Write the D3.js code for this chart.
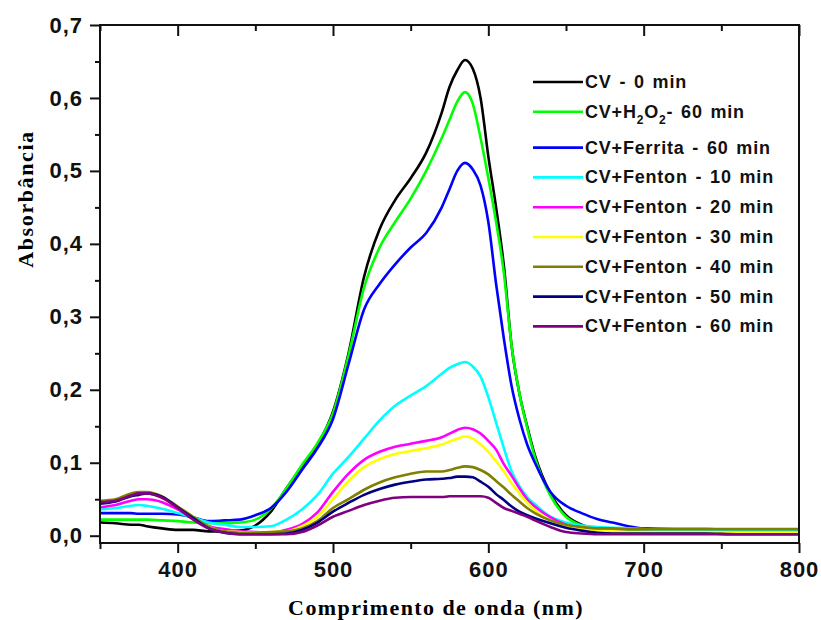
<!DOCTYPE html>
<html>
<head>
<meta charset="utf-8">
<script src="https://cdn.jsdelivr.net/npm/d3@7"></script>
<style>
    body { margin: 0; background: #fff; }
    svg { display: block; }
</style>
</head>
<body>
<svg id="chart"></svg>
<script>
// wavelengths (nm)
var wavelength = [350, 360, 370, 375, 380, 390, 400, 410, 420, 430, 440, 450,
    460, 470, 480, 490, 500, 510, 520, 530, 540, 550, 560, 570,
    575, 580, 585, 590, 595, 600, 605, 610, 615, 620, 625, 630,
    640, 650, 660, 670, 680, 690, 700, 720, 740, 760, 780, 800]

var cv0 = [.018, .017, .015, .015, .013, .010, .008, .008, .006, .006, .007, .014,
    .033, .065, .095, .125, .170, .250, .355, .420, .460, .490, .525, .580,
    .615, .638, .652, .640, .600, .520, .450, .370, .260, .195, .150, .110,
    .058, .028, .015, .010, .008, .007, .007, .006, .006, .005, .005, .005]
var cvH2O2 = [.022, .022, .022, .022, .022, .021, .020, .018, .017, .017, .018, .022,
    .037, .065, .097, .127, .168, .247, .340, .395, .430, .462, .500, .545,
    .570, .595, .608, .592, .545, .490, .430, .360, .260, .195, .148, .107,
    .055, .026, .014, .010, .008, .007, .007, .006, .006, .005, .005, .005]
var cvFerrita = [.031, .031, .031, .030, .030, .030, .029, .025, .020, .021, .022, .028,
    .038, .060, .090, .120, .160, .235, .310, .345, .372, .395, .415, .450,
    .475, .500, .511, .502, .480, .430, .345, .270, .205, .160, .125, .100,
    .060, .041, .031, .023, .018, .013, .010, .009, .009, .008, .008, .008]
var fenton10 = [.036, .038, .041, .042, .041, .037, .031, .025, .018, .015, .012, .012,
    .013, .022, .036, .056, .085, .108, .133, .158, .178, .192, .205, .222,
    .230, .235, .238, .232, .218, .190, .155, .120, .088, .068, .053, .043,
    .026, .018, .014, .012, .011, .010, .009, .008, .007, .007, .006, .006]
var fenton20 = [.039, .042, .048, .050, .050, .046, .036, .024, .013, .009, .006, .005,
    .004, .008, .016, .032, .060, .085, .104, .115, .122, .126, .130, .135,
    .140, .145, .148, .146, .140, .130, .118, .098, .082, .065, .050, .040,
    .025, .015, .010, .007, .006, .005, .005, .004, .004, .003, .003, .003]
var fenton30 = [.047, .049, .055, .058, .058, .052, .039, .025, .012, .006, .005, .004,
    .005, .006, .013, .026, .050, .075, .094, .105, .112, .116, .120, .125,
    .129, .133, .136, .133, .125, .115, .102, .088, .072, .058, .045, .035,
    .021, .013, .009, .007, .006, .005, .005, .005, .005, .004, .004, .004]
var fenton40 = [.048, .050, .058, .060, .060, .054, .040, .026, .012, .006, .004, .004,
    .005, .006, .010, .020, .038, .050, .063, .073, .080, .085, .088, .088,
    .090, .093, .095, .094, .090, .084, .075, .066, .056, .047, .038, .031,
    .021, .015, .012, .010, .010, .009, .009, .009, .009, .009, .009, .009]
var fenton50 = [.044, .047, .054, .056, .058, .053, .039, .024, .010, .004, .002, .002,
    .002, .003, .008, .018, .033, .045, .056, .064, .070, .074, .077, .078,
    .079, .081, .081, .080, .074, .067, .057, .049, .040, .033, .028, .024,
    .017, .011, .007, .004, .003, .003, .003, .003, .003, .002, .002, .002]
var fenton60 = [.046, .048, .055, .058, .058, .052, .038, .022, .010, .004, .002, .002,
    .002, .002, .005, .014, .026, .034, .042, .048, .052, .053, .053, .053,
    .054, .054, .054, .054, .054, .052, .045, .038, .034, .030, .026, .021,
    .012, .005, .003, .002, .002, .002, .002, .002, .002, .002, .002, .002]

var seriesNames = ["CV - 0 min", "CV+H2O2 - 60 min", "CV+Ferrita - 60 min",
    "CV+Fenton - 10 min", "CV+Fenton - 20 min", "CV+Fenton - 30 min",
    "CV+Fenton - 40 min", "CV+Fenton - 50 min", "CV+Fenton - 60 min"]
var seriesValues = [cv0, cvH2O2, cvFerrita, fenton10, fenton20, fenton30, fenton40, fenton50, fenton60]
var seriesColors = ["#000000", "#00ff00", "#0000ff", "#00ffff", "#ff00ff",
    "#ffff00", "#808000", "#000080", "#800080"]

var xMajor = [400, 500, 600, 700, 800]
var xMinor = [350, 450, 550, 650, 750]
var yMajor = [0, 0.1, 0.2, 0.3, 0.4, 0.5, 0.6, 0.7]
var yMinor = [0.05, 0.15, 0.25, 0.35, 0.45, 0.55, 0.65]

var width = 821, height = 620
var svg = d3.select("#chart")
    .attr("width", width)
    .attr("height", height)

var x = d3.scaleLinear().domain([350, 800]).range([100, 799])
var y = d3.scaleLinear().domain([-0.01, 0.7]).range([543, 25])

var comma = function(d) { return d3.format(".1f")(d).replace(".", ",") }
var tickFont = "'Liberation Sans', Arial, sans-serif"
var titleFont = "'Liberation Serif', 'Times New Roman', serif"

// curves
var line = d3.line()
    .x(d => x(d[0]))
    .y(d => y(d[1]))
    .curve(d3.curveMonotoneX)

svg.append("g")
    .selectAll("path")
    .data(seriesValues)
    .enter()
    .append("path")
        .attr("d", vals => line(wavelength.map((w, i) => [w, vals[i]])))
        .attr("fill", "none")
        .attr("stroke", (d, i) => seriesColors[i])
        .attr("stroke-width", 2.6)
        .attr("stroke-linejoin", "round")

// axes
function styleAxis(g) {
    g.select(".domain").remove()
    g.selectAll(".tick line").attr("stroke", "#111").attr("stroke-width", 2)
    g.selectAll(".tick text")
        .attr("fill", "#111")
        .style("font-family", tickFont)
        .style("font-weight", "bold")
        .style("font-size", "22px")
        .style("letter-spacing", "1px")
}

svg.append("g")
    .attr("transform", "translate(0,543)")
    .call(d3.axisBottom(x).tickValues(xMajor).tickSize(10).tickPadding(8).tickFormat(d3.format("d")))
    .call(styleAxis)
svg.append("g")
    .attr("transform", "translate(0,543)")
    .call(d3.axisBottom(x).tickValues(xMinor).tickSize(6).tickFormat(""))
    .call(styleAxis)
svg.append("g")
    .attr("transform", "translate(0,25)")
    .call(d3.axisTop(x).tickValues(xMajor).tickSize(-11).tickFormat(""))
    .call(styleAxis)
svg.append("g")
    .attr("transform", "translate(0,25)")
    .call(d3.axisTop(x).tickValues(xMinor).tickSize(-6).tickFormat(""))
    .call(styleAxis)
svg.append("g")
    .attr("transform", "translate(100,0)")
    .call(d3.axisLeft(y).tickValues(yMajor).tickSize(10).tickPadding(7).tickFormat(comma))
    .call(styleAxis)
svg.append("g")
    .attr("transform", "translate(100,0)")
    .call(d3.axisLeft(y).tickValues(yMinor).tickSize(5).tickFormat(""))
    .call(styleAxis)

// frame
svg.append("rect")
    .attr("x", x.range()[0])
    .attr("y", y.range()[1])
    .attr("width", x.range()[1] - x.range()[0])
    .attr("height", y.range()[0] - y.range()[1])
    .attr("fill", "none")
    .attr("stroke", "#111")
    .attr("stroke-width", 2)

// axis titles
svg.append("text")
    .attr("x", 436)
    .attr("y", 615)
    .attr("text-anchor", "middle")
    .style("font-family", titleFont)
    .style("font-weight", "bold")
    .style("font-size", "22px")
    .style("letter-spacing", "1.4px")
    .text("Comprimento de onda (nm)")

svg.append("text")
    .attr("transform", "translate(33,199) rotate(-90)")
    .attr("text-anchor", "middle")
    .style("font-family", titleFont)
    .style("font-weight", "bold")
    .style("font-size", "22px")
    .style("letter-spacing", "1.6px")
    .text("Absorbância")

// legend
var legend = svg.append("g")
var rowY = function(i) { return 82 + i * 29.8 + (i >= 2 ? 6 : 0) }

seriesNames.forEach(function(name, i) {
    var row = legend.append("g").attr("transform", "translate(0," + rowY(i) + ")")
    row.append("line")
        .attr("x1", 533).attr("x2", 583)
        .attr("y1", 0).attr("y2", 0)
        .attr("stroke", seriesColors[i])
        .attr("stroke-width", 2.6)
    var t = row.append("text")
        .attr("x", 585)
        .attr("y", 6)
        .style("font-family", tickFont)
        .style("font-weight", "bold")
        .style("font-size", "18px")
        .style("letter-spacing", "0.8px")
        .style("word-spacing", "2px")
        .attr("fill", "#111")
    if (name.indexOf("H2O2") >= 0) {
        t.append("tspan").text("CV+H")
        t.append("tspan").text("2").attr("dy", 6).style("font-size", "12px")
        t.append("tspan").text("O").attr("dy", -6)
        t.append("tspan").text("2").attr("dy", 6).style("font-size", "12px")
        t.append("tspan").text("- 60 min").attr("dy", -6)
    } else {
        t.text(name)
    }
})
</script>
</body>
</html>
